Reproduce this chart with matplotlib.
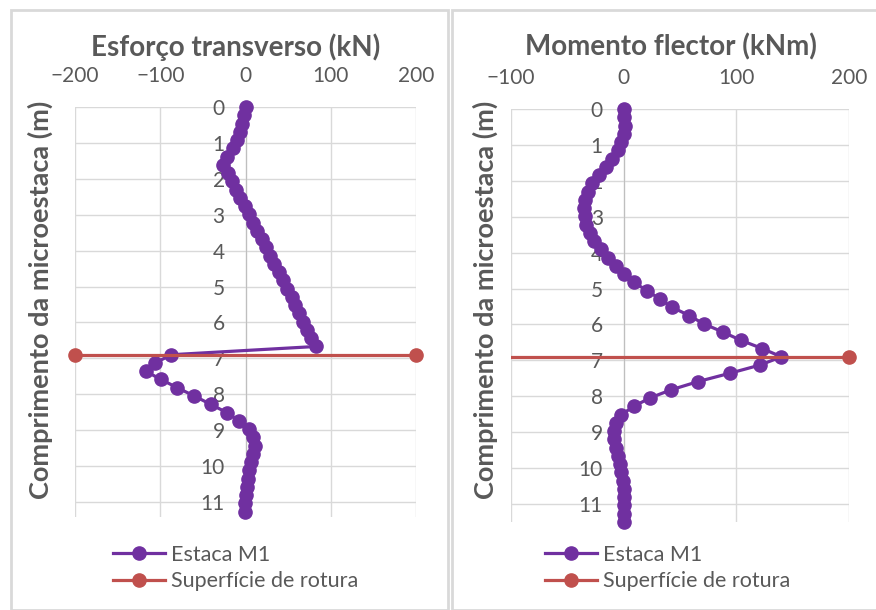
import matplotlib
matplotlib.use('Agg')
import matplotlib.pyplot as plt
from matplotlib.patches import Rectangle
from matplotlib.transforms import Bbox, TransformedBbox

# depth along the micropile (m)
depth = [0, 0.23, 0.46, 0.69, 0.92, 1.15, 1.38, 1.61, 1.84, 2.07, 2.3, 2.53, 2.76, 2.99,
         3.22, 3.45, 3.68, 3.91, 4.14, 4.37, 4.6, 4.83, 5.06, 5.29, 5.52, 5.75, 5.98,
         6.21, 6.44, 6.67, 6.9, 7.13, 7.36, 7.59, 7.82, 8.05, 8.28, 8.51, 8.74, 8.97,
         9.2, 9.43, 9.66, 9.89, 10.12, 10.35, 10.58, 10.81, 11.04, 11.27, 11.5]

# shear force (kN), ends at 11.27 m
shear = [0, -2, -4, -6, -10, -15, -22, -26, -21, -16, -11, -6, -1, 4,
         9, 14, 19, 24, 29, 34, 39, 44, 49, 54, 58, 63, 67,
         72, 77, 83, -87, -106, -117, -99, -80, -60, -41, -22, -8, 4,
         9, 11, 9, 6, 4, 3, 2, 1, -1, -1]

# bending moment (kNm)
moment = [0, 0, 1, 0, -2, -5, -10, -16, -22, -28, -32, -34, -35, -34,
          -33, -30, -26, -20, -14, -7, 0, 9, 21, 32, 43, 58, 71,
          88, 104, 123, 140, 121, 94, 66, 42, 23, 9, -2, -7, -9,
          -9, -7, -5, -3, -2, -1, 0, 0, 0, 0, 0]

# failure surface
rotura_x = [-200, 200]
rotura_y = [6.9, 6.9]

purple = '#7030A0'
red = '#C0504D'
grey_txt = '#595959'
grid_c = '#D9D9D9'

plt.rcParams['font.family'] = ['Lato', 'DejaVu Sans']

fig = plt.figure(figsize=(8.76, 6.1), dpi=100)

W, H = 876, 610
# panel borders (pixels)
for (x0, x1) in [(11, 448), (452, 890)]:
    fig.patches.append(Rectangle((x0 / W, 0), (x1 - x0) / W, 1 - 10 / H,
                                 transform=fig.transFigure, fill=False,
                                 edgecolor='#D9D9D9', linewidth=2))


def make_panel(rect, xs, ys, xticks, xlim, ylim, title, title_x, ylabel_x, leg_x):
    ax = fig.add_axes(rect)
    ax.plot(xs, ys, color=purple, linewidth=2.3, marker='o', markersize=9.5,
            clip_on=False, zorder=3, label='Estaca M1')
    red_line, = ax.plot(rotura_x, rotura_y, color=red, linewidth=2.3, marker='o',
                        markersize=9.5, zorder=4, label='Superfície de rotura')
    # red markers stay visible past the edge, but the line is cut at the left axis
    left = -0.05 if xlim[0] <= -200 else 0
    red_line.set_clip_box(TransformedBbox(Bbox([[left, -0.05], [1.05, 1.05]]), ax.transAxes))

    ax.set_xlim(*xlim)
    ax.set_ylim(ylim, 0)
    ax.set_xticks(xticks)
    ax.set_yticks(range(0, 12))
    ax.xaxis.tick_top()
    ax.tick_params(axis='x', length=0, pad=15, labelsize=15, labelcolor=grey_txt)
    ax.tick_params(axis='y', length=0, pad=15, labelsize=15, labelcolor=grey_txt)
    ax.grid(True, color=grid_c, linewidth=1)
    for s in ['top', 'right', 'bottom']:
        ax.spines[s].set_visible(False)
    ax.spines['left'].set_position(('data', 0))
    ax.spines['left'].set_color('#BFBFBF')
    ax.set_axisbelow(True)

    fig.text(title_x / W, 1 - 47 / H, title, ha='center', va='center',
             fontsize=20, fontweight='bold', color=grey_txt)
    fig.text(ylabel_x / W, 1 - 300 / H, 'Comprimento da microestaca (m)', ha='center',
             va='center', rotation=90, fontsize=19.5, fontweight='bold', color=grey_txt)

    ax.legend(loc='center left', bbox_to_anchor=(leg_x / W, 1 - 568 / H),
              bbox_transform=fig.transFigure, frameon=False, fontsize=15.5,
              borderaxespad=0, borderpad=0, handlelength=2.4, handletextpad=0.28,
              labelspacing=0.3, labelcolor=grey_txt)
    return ax


make_panel([75 / W, 1 - 517 / H, 341 / W, 410 / H], shear, depth[:len(shear)],
           [-200, -100, 0, 100, 200], (-200, 200), 11.42,
           'Esforço transverso (kN)', 236, 40, 113)
make_panel([511 / W, 1 - 522 / H, 338 / W, 413 / H], moment, depth,
           [-100, 0, 100, 200], (-100, 200), 11.5,
           'Momento flector (kNm)', 671, 485, 545)

fig.savefig('out.png', dpi=100)
